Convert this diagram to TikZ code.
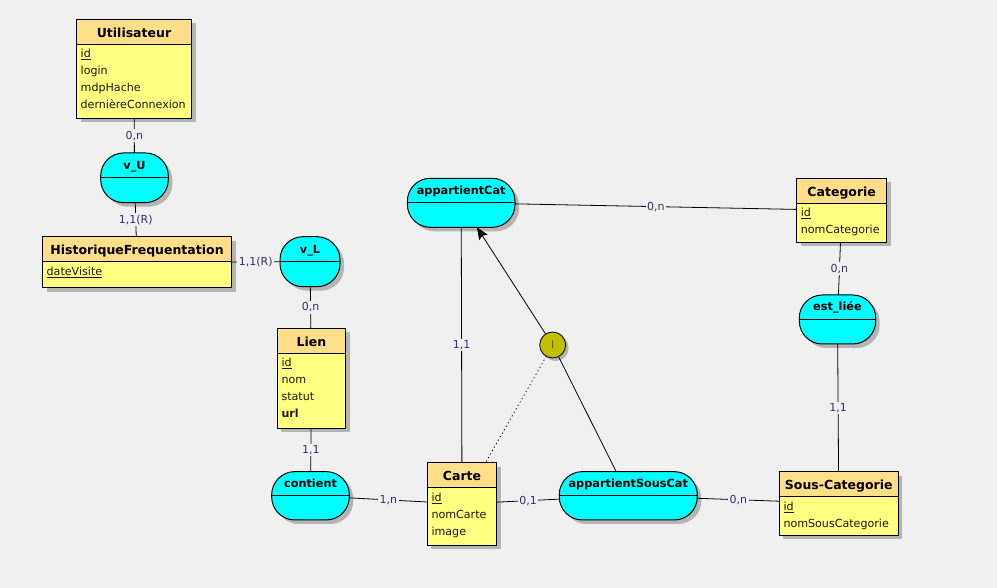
\documentclass[tikz,border=0pt]{standalone}
\usepackage{fontspec}
\setmainfont{DejaVu Sans}
\usetikzlibrary{arrows.meta,calc}
\definecolor{bgc}{HTML}{F0F0F0}
\definecolor{headc}{HTML}{FFDE8A}
\definecolor{bodyc}{HTML}{FFFF80}
\definecolor{cyanc}{HTML}{00FFFF}
\definecolor{circc}{HTML}{C0C000}
\definecolor{shadowc}{HTML}{B4B4B4}
\definecolor{cardc}{HTML}{2F2F6F}
\definecolor{ilabc}{HTML}{7A4A00}
\tikzset{
  boxline/.style={draw=black, line width=1pt},
  entbox/.style={rectangle, draw=black, line width=1pt, fill=bodyc, inner sep=0pt, outer sep=0pt},
  titletext/.style={font=\fontsize{12.5}{14}\selectfont\bfseries, inner sep=0pt},
  attrtext/.style={font=\fontsize{11.1}{13}\selectfont, inner sep=0pt, text=black!90},
  assoshape/.style={rectangle, rounded corners=23pt, draw=black, line width=1pt, fill=cyanc, inner sep=0pt, outer sep=0pt},
  assotext/.style={font=\fontsize{11.3}{13}\selectfont\bfseries, inner sep=0pt},
  conn/.style={draw=black, line width=0.8pt},
  card/.style={fill=bgc, inner sep=1.5pt, font=\fontsize{11}{13}\selectfont, text=cardc},
}
% entity: name, x, y (top-left), width, height, title, attributes
\newcommand{\ent}[7]{%
  \fill[shadowc] (#2+4,#3+4) rectangle (#2+#4+4,#3+#5+4);
  \node[entbox, minimum width=#4, minimum height=#5, anchor=north west] (#1) at (#2,#3) {};
  \fill[headc] (#2,#3) rectangle (#2+#4,#3+25);
  \draw[boxline] (#2,#3+25) -- (#2+#4,#3+25);
  \draw[boxline] (#1.north west) rectangle (#1.south east);
  \node[titletext, anchor=base] at (#2+#4/2,#3+18) {#6};
  \foreach \a [count=\i] in {#7} {%
    \node[attrtext, anchor=base west] at (#2+4,#3+38.5+17*\i-17) {\a};
  }
}
% association: name, cx, cy, width, height, label
\newcommand{\asso}[6]{%
  \node[assoshape, fill=shadowc, draw=none, minimum width=#4, minimum height=#5] at (#2+4,#3+4) {};
  \node[assoshape, minimum width=#4, minimum height=#5] (#1) at (#2,#3) {};
  \draw[boxline] (#1.west) -- (#1.east);
  \node[assotext, anchor=base] at (#2,#3-8.5) {#6};
}
\begin{document}
\begin{tikzpicture}[x=1pt,y=-1pt]
\useasboundingbox (0,0) rectangle (997,588);
\fill[bgc] (0,0) rectangle (997,588);

\ent{util}{76.5}{19.3}{115}{99}{Utilisateur}{{\underline{id}},login,mdpHache,dernièreConnexion}
\ent{hist}{42.5}{236.7}{189}{51}{HistoriqueFrequentation}{{\underline{dateVisite}}}
\ent{lien}{277.3}{328.3}{68.4}{100}{Lien}{{\underline{id}},nom,statut,{\bfseries url}}
\ent{carte}{427.3}{462.7}{69.4}{82.3}{Carte}{{\underline{id}},nomCarte,image}
\ent{categorie}{796.7}{178.3}{90}{64}{Categorie}{{\underline{id}},nomCategorie}
\ent{souscat}{779.3}{471.7}{119}{63.3}{Sous-Categorie}{{\underline{id}},nomSousCategorie}

\asso{vU}{134.5}{177.8}{67.6}{49.7}{v\_U}
\asso{vL}{310}{261.7}{60}{50}{v\_L}
\asso{contient}{310.5}{495.8}{77.6}{48.3}{contient}
\asso{aSC}{628.3}{495.8}{138}{48.3}{appartientSousCat}
\asso{estliee}{837.5}{319.5}{76.4}{49}{est\_liée}
\asso{aC}{461.2}{202.8}{107.7}{49}{appartientCat}

\node[circle, draw=none, fill=shadowc, minimum size=26pt, inner sep=0pt] at (555.7,348) {};
\node[circle, draw=black, line width=0.8pt, fill=circc, minimum size=26pt, inner sep=0pt, outer sep=0pt,
      font=\fontsize{10.5}{12}\selectfont, text=ilabc] (ci) at (552.7,345) {I};

\draw[conn] (util) -- node[card]{0,n} (vU);
\draw[conn] (vU) -- node[card]{1,1(R)} (hist);
\draw[conn] (hist) -- node[card]{1,1(R)} (vL);
\draw[conn] (vL) -- node[card]{0,n} (lien);
\draw[conn] (lien) -- node[card]{1,1} (contient);
\draw[conn] (contient) -- node[card]{1,n} (carte);
\draw[conn] (carte) -- node[card]{0,1} (aSC);
\draw[conn] (aSC) -- node[card]{0,n} (souscat);
\draw[conn] (aC) -- node[card]{0,n} (categorie);
\draw[conn] (aC) -- node[card]{1,1} (carte);
\draw[conn] (categorie) -- node[card]{0,n} (estliee);
\draw[conn] (estliee) -- node[card]{1,1} (souscat);
\draw[conn, -{Stealth[length=12pt, width=10pt, inset=2pt]}] (ci) -- (aC);
\draw[conn] (ci) -- (aSC);
\draw[conn, dash pattern=on 1.2pt off 2.8pt] (ci) -- (carte);
\end{tikzpicture}
\end{document}
